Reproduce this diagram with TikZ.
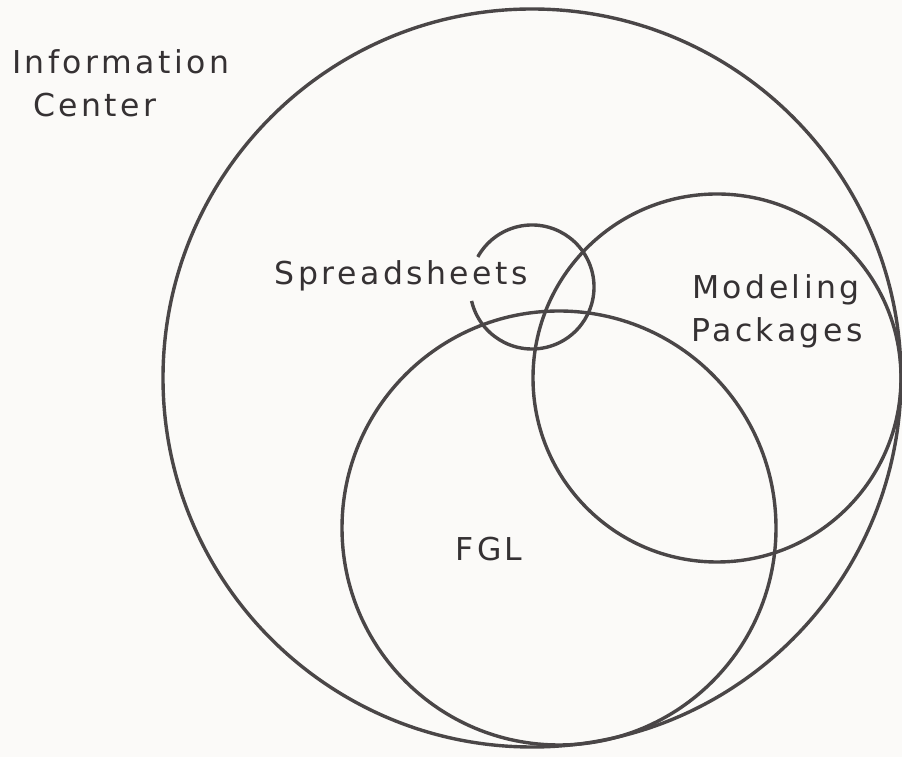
\documentclass[tikz,border=0pt]{standalone}
\usepackage{fontspec}
\setmainfont{DejaVu Sans}[LetterSpace=11]
\definecolor{inkgray}{HTML}{4A4647}
\definecolor{textgray}{HTML}{353133}
\definecolor{paper}{HTML}{FBFAF8}
\begin{document}
\begin{tikzpicture}[x=1pt,y=1pt,
  ring/.style={circle, draw=inkgray, line width=3.4pt, inner sep=0pt, outer sep=0pt},
  hub/.style={circle, inner sep=0pt, outer sep=0pt},
  tag/.style={text=textgray, inner sep=0pt, font=\fontsize{31.5}{43}\selectfont}]
% paper and frame
\fill[paper] (0,0) rectangle (902,757);
\useasboundingbox (0,0) rectangle (902,757);

% the nested sets
\node[ring, minimum size=738pt] (ic) at (532,379) {};
\node[ring, minimum size=368pt] (mp) at (717,379) {};
\node[ring, minimum size=434pt] (fgl) at (559,229) {};
\node[hub, minimum size=124pt] (ss) at (532,470) {};
% spreadsheet ring, left open where its label runs through
\draw[draw=inkgray, line width=3.4pt] (ss.193) arc[start angle=193, end angle=511, radius=62pt];

% labels
\node[tag, anchor=base west] (icA) at (12,683) {Information};
\node[tag, anchor=base west] (icB) at (33,640) {Center};
\node[tag, anchor=base east] (ssl) at (528,472) {Spreadsheets};
\node[tag, anchor=base] (mpA) at (776,458) {Modeling};
\node[tag, anchor=base] (mpB) at (777,415) {Packages};
\node[tag, anchor=base] (fgll) at (489,196) {FGL};
\end{tikzpicture}
\end{document}
